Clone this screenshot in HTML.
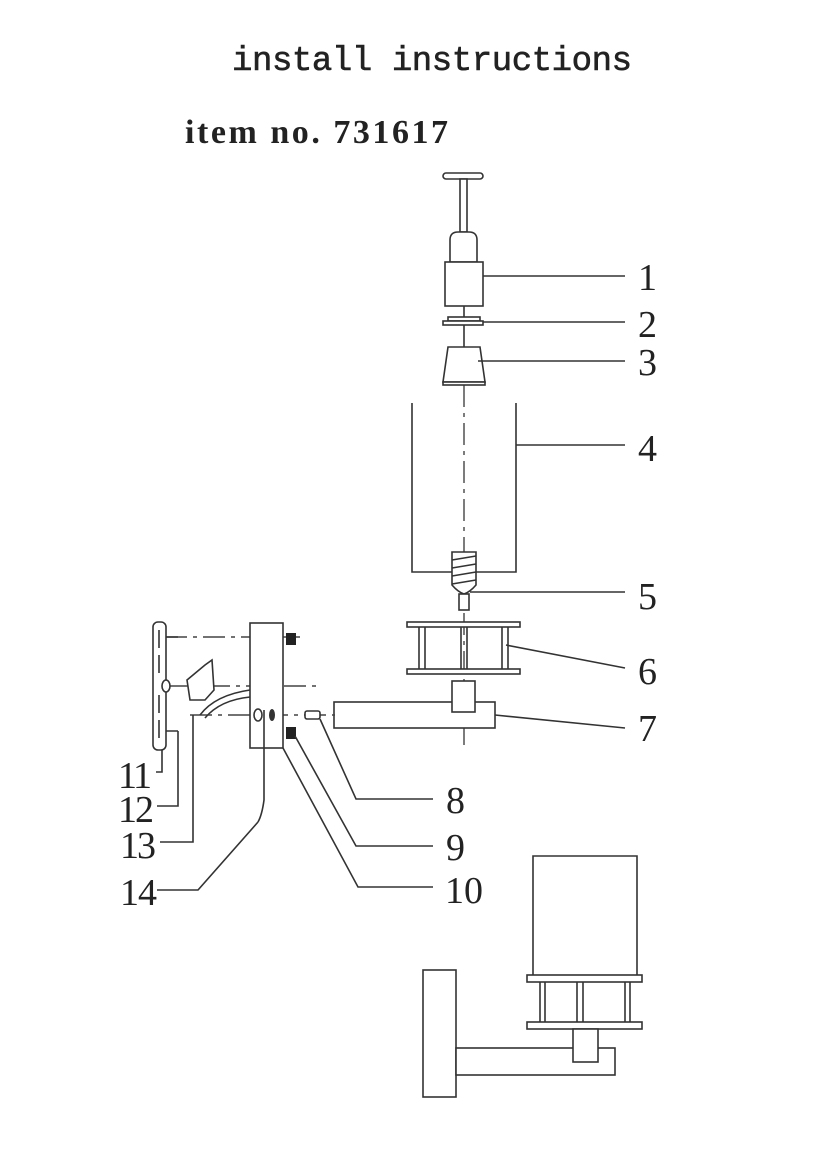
<!DOCTYPE html>
<html><head><meta charset="utf-8"><style>
html,body{margin:0;padding:0;background:#fff}
svg{display:block}
.l{stroke:#333;stroke-width:1.6;fill:none}
.f{stroke:#333;stroke-width:1.6;fill:#fff}
.d{stroke:#444;stroke-width:1.4;fill:none;stroke-dasharray:22,6,4,6}
.n{font-family:"Liberation Serif",serif;font-size:38px;fill:#222}
</style></head><body>
<svg width="826" height="1167" viewBox="0 0 826 1167" xmlns="http://www.w3.org/2000/svg">
<rect width="826" height="1167" fill="#fff"/>
<text x="232" y="70" font-family="Liberation Mono,monospace" font-size="34" textLength="400" fill="#222" stroke="#222" stroke-width="0.6">install  instructions</text>
<text x="185" y="143" font-family="Liberation Serif,serif" font-weight="bold" font-size="34" textLength="263" fill="#222">item no. 731617</text>

<line class="d" x1="464" y1="385" x2="464" y2="745"/>
<rect class="f" x="443" y="173" width="40" height="6" rx="3"/>
<rect class="f" x="460" y="179" width="7" height="53"/>
<path class="f" d="M450 262 V240 Q450 232 458 232 H469 Q477 232 477 240 V262Z"/>
<rect class="f" x="445" y="262" width="38" height="44"/>
<line class="l" x1="464" y1="306" x2="464" y2="347"/>
<rect class="f" x="448" y="317" width="32" height="4"/>
<rect class="f" x="443" y="321" width="40" height="4"/>
<path class="f" d="M448 347 H480 L485 382 H443Z"/>
<rect class="f" x="443" y="382" width="42" height="3"/>
<line class="l" x1="483" y1="276" x2="625" y2="276"/>
<line class="l" x1="483" y1="322" x2="625" y2="322"/>
<line class="l" x1="478" y1="361" x2="625" y2="361"/>
<text class="n" x="638" y="290" textLength="17">1</text>
<text class="n" x="638" y="337" textLength="17">2</text>
<text class="n" x="638" y="375" textLength="17">3</text>
<path class="l" d="M412 403 V572 H516 V403"/>
<line class="l" x1="516" y1="445" x2="625" y2="445"/>
<text class="n" x="638" y="461" textLength="17">4</text>
<path class="f" d="M452 552 H476 V585 Q470 592 464 594 Q458 592 452 585Z"/>
<path class="l" d="M452 560 L476 556 M452 568 L476 564 M452 576 L476 572 M452 584 L476 580"/>
<rect class="f" x="459" y="594" width="10" height="16"/>
<line class="l" x1="470" y1="592" x2="625" y2="592"/>
<text class="n" x="638" y="609" textLength="17">5</text>
<rect class="f" x="407" y="622" width="113" height="5"/>
<rect class="f" x="407" y="669" width="113" height="5"/>
<path class="l" d="M419 627V669 M425 627V669 M461 627V669 M467 627V669 M502 627V669 M508 627V669"/>
<line class="l" x1="506" y1="645" x2="625" y2="668"/>
<text class="n" x="638" y="684" textLength="17">6</text>
<rect class="f" x="334" y="702" width="161" height="26"/>
<rect class="f" x="452" y="681" width="23" height="31"/>
<line class="l" x1="495" y1="715" x2="625" y2="728"/>
<text class="n" x="638" y="741" textLength="17">7</text>
<line class="d" x1="165" y1="637" x2="300" y2="637"/>
<line class="d" x1="170" y1="686" x2="322" y2="686"/>
<line class="d" x1="190" y1="715" x2="335" y2="715"/>
<rect class="f" x="153" y="622" width="13" height="128" rx="5"/>
<path class="l" d="M159 630v18 M159 655v18 M159 695v18 M159 720v18"/>
<ellipse class="f" cx="166" cy="686" rx="4" ry="6"/>
<path class="l" d="M166 637h12 M166 731h12"/>
<path class="f" d="M187 680 L205 665 L212 660 L214 690 L205 700 L190 700Z"/>
<path class="l" d="M250 690 Q215 695 200 715 M250 697 Q220 700 205 718"/>
<rect class="f" x="250" y="623" width="33" height="125"/>
<rect x="286" y="633" width="10" height="12" fill="#222"/>
<rect x="286" y="727" width="10" height="12" fill="#222"/>
<ellipse class="f" cx="258" cy="715" rx="4" ry="6"/>
<ellipse cx="272" cy="715" rx="3" ry="6" fill="#333"/>
<line class="l" x1="264" y1="710" x2="264" y2="740"/>
<path class="l" d="M264 740 L264 800 Q262 815 258 822"/>
<rect class="f" x="305" y="711" width="15" height="8" rx="2"/>
<path class="l" d="M320 719 L356 799 H433"/>
<path class="l" d="M295 736 L356 846 H433"/>
<path class="l" d="M283 748 L358 887 H433"/>
<text class="n" x="446" y="813" textLength="17">8</text>
<text class="n" x="446" y="860" textLength="17">9</text>
<text class="n" x="445" y="903" textLength="38">10</text>
<path class="l" d="M162 750 V772 H156"/>
<path class="l" d="M178 731 V806 H157"/>
<path class="l" d="M193 715 V842 H160"/>
<path class="l" d="M157 890 H198 L258 822"/>
<text class="n" x="118" y="788" textLength="34">11</text>
<text class="n" x="118" y="822" textLength="36">12</text>
<text class="n" x="120" y="858" textLength="36">13</text>
<text class="n" x="120" y="905" textLength="37">14</text>
<path class="l" d="M533 975 V856 H637 V975"/>
<rect class="f" x="527" y="975" width="115" height="7"/>
<rect class="f" x="527" y="1022" width="115" height="7"/>
<path class="l" d="M540 982V1022 M545 982V1022 M577 982V1022 M583 982V1022 M625 982V1022 M630 982V1022"/>
<rect class="f" x="423" y="970" width="33" height="127"/>
<rect class="f" x="456" y="1048" width="159" height="27"/>
<rect class="f" x="573" y="1029" width="25" height="33"/>
</svg>
</body></html>
